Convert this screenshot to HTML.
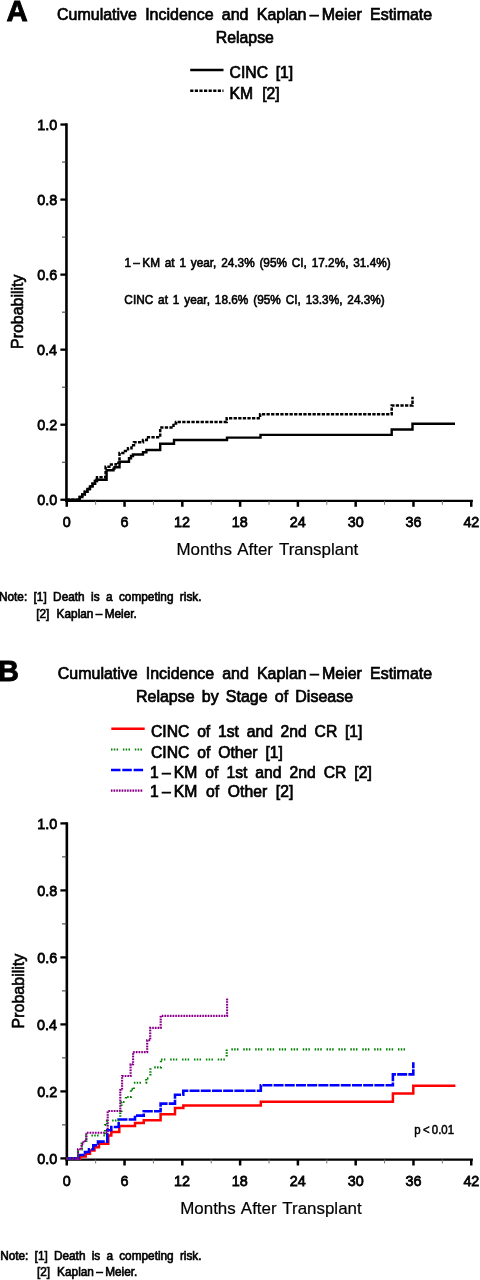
<!DOCTYPE html><html><head><meta charset="utf-8"><style>html,body{margin:0;padding:0;background:#fff;}svg{display:block;will-change:transform;}text{font-family:"Liberation Sans",sans-serif;fill:#000;white-space:pre;}</style></head><body>
<svg width="480" height="1280" viewBox="0 0 480 1280">
<text x="6.55" y="20.80" font-size="29.50" font-weight="bold" stroke="#000" stroke-width="0.90" textLength="21.26" lengthAdjust="spacingAndGlyphs">A</text>
<text transform="translate(57.00 20.30) scale(0.930 1)" font-size="17.20" stroke="#000" stroke-width="0.75" word-spacing="4.09">Cumulative Incidence and Kaplan – Meier Estimate</text>
<text transform="translate(215.81 43.10) scale(0.930 1)" font-size="17.20" stroke="#000" stroke-width="0.75" textLength="62.45" lengthAdjust="spacingAndGlyphs">Relapse</text>
<text transform="translate(229.60 78.00) scale(0.925 1)" font-size="17.00" stroke="#000" stroke-width="0.75" word-spacing="3.57">CINC [1]</text>
<text transform="translate(229.50 99.40) scale(0.925 1)" font-size="17.00" stroke="#000" stroke-width="0.75" word-spacing="5.14">KM [2]</text>
<text transform="translate(124.40 266.80) scale(0.970 1)" font-size="12.20" stroke="#000" stroke-width="0.60" word-spacing="1.54">1 – KM at 1 year, 24.3% (95% CI, 17.2%, 31.4%)</text>
<text transform="translate(124.35 304.30) scale(0.970 1)" font-size="12.20" stroke="#000" stroke-width="0.60" word-spacing="1.65">CINC at 1 year, 18.6% (95% CI, 13.3%, 24.3%)</text>
<text transform="translate(176.50 554.75) scale(1.020 1)" font-size="16.60" stroke="#000" stroke-width="0.20" word-spacing="1.52">Months After Transplant</text>
<text transform="translate(-1.05 601.40) scale(0.970 1)" font-size="12.20" stroke="#000" stroke-width="0.65" word-spacing="3.21">Note: [1] Death is a competing risk.</text>
<text transform="translate(36.20 617.80) scale(0.970 1)" font-size="12.20" stroke="#000" stroke-width="0.65" word-spacing="4.12">[2] Kaplan – Meier.</text>
<text x="-2.08" y="680.80" font-size="29.30" font-weight="bold" stroke="#000" stroke-width="0.90" textLength="20.89" lengthAdjust="spacingAndGlyphs">B</text>
<text transform="translate(57.80 679.10) scale(0.930 1)" font-size="17.20" stroke="#000" stroke-width="0.75" word-spacing="3.87">Cumulative Incidence and Kaplan – Meier Estimate</text>
<text transform="translate(136.00 701.80) scale(0.930 1)" font-size="17.20" stroke="#000" stroke-width="0.75" word-spacing="2.94">Relapse by Stage of Disease</text>
<text transform="translate(151.00 736.90) scale(0.925 1)" font-size="17.00" stroke="#000" stroke-width="0.75" word-spacing="3.64">CINC of 1st and 2nd CR [1]</text>
<text transform="translate(151.00 757.60) scale(0.925 1)" font-size="17.00" stroke="#000" stroke-width="0.75" word-spacing="3.78">CINC of Other [1]</text>
<text transform="translate(150.05 778.20) scale(0.925 1)" font-size="17.00" stroke="#000" stroke-width="0.75" word-spacing="3.88">1 – KM of 1st and 2nd CR [2]</text>
<text transform="translate(150.05 797.20) scale(0.925 1)" font-size="17.00" stroke="#000" stroke-width="0.75" word-spacing="4.67">1 – KM of Other [2]</text>
<text transform="translate(180.25 1214.40) scale(1.020 1)" font-size="16.60" stroke="#000" stroke-width="0.20" word-spacing="1.35">Months After Transplant</text>
<text x="414.27" y="1134.20" font-size="12.00" stroke="#000" stroke-width="0.50" textLength="39.80" lengthAdjust="spacingAndGlyphs">p &lt; 0.01</text>
<text transform="translate(0.15 1260.00) scale(0.970 1)" font-size="12.20" stroke="#000" stroke-width="0.65" word-spacing="3.01">Note: [1] Death is a competing risk.</text>
<text transform="translate(22.90 348.90) rotate(-90) scale(0.930 1)" font-size="17.20" stroke="#000" stroke-width="0.60" textLength="79.92" lengthAdjust="spacingAndGlyphs">Probability</text>
<text transform="translate(23.60 1028.50) rotate(-90) scale(0.930 1)" font-size="17.20" stroke="#000" stroke-width="0.60" textLength="80.46" lengthAdjust="spacingAndGlyphs">Probability</text>
<text transform="translate(37.00 1276.20) scale(0.970 1)" font-size="12.20" stroke="#000" stroke-width="0.65" word-spacing="3.81">[2] Kaplan – Meier.</text>
<text transform="translate(37.25 505.45) scale(0.940 1)" font-size="15.30" stroke="#000" stroke-width="0.80">0.0</text>
<text transform="translate(37.25 430.41) scale(0.940 1)" font-size="15.30" stroke="#000" stroke-width="0.80">0.2</text>
<text transform="translate(37.00 355.37) scale(0.940 1)" font-size="15.30" stroke="#000" stroke-width="0.80">0.4</text>
<text transform="translate(37.25 280.33) scale(0.940 1)" font-size="15.30" stroke="#000" stroke-width="0.80">0.6</text>
<text transform="translate(37.25 205.29) scale(0.940 1)" font-size="15.30" stroke="#000" stroke-width="0.80">0.8</text>
<text transform="translate(37.25 130.25) scale(0.940 1)" font-size="15.30" stroke="#000" stroke-width="0.80">1.0</text>
<text transform="translate(62.75 526.50) scale(0.940 1)" font-size="15.30" stroke="#000" stroke-width="0.80">0</text>
<text transform="translate(120.54 526.50) scale(0.940 1)" font-size="15.30" stroke="#000" stroke-width="0.80">6</text>
<text transform="translate(174.07 526.50) scale(0.940 1)" font-size="15.30" stroke="#000" stroke-width="0.80">12</text>
<text transform="translate(231.86 526.50) scale(0.940 1)" font-size="15.30" stroke="#000" stroke-width="0.80">18</text>
<text transform="translate(289.77 526.50) scale(0.940 1)" font-size="15.30" stroke="#000" stroke-width="0.80">24</text>
<text transform="translate(347.68 526.50) scale(0.940 1)" font-size="15.30" stroke="#000" stroke-width="0.80">30</text>
<text transform="translate(405.47 526.50) scale(0.940 1)" font-size="15.30" stroke="#000" stroke-width="0.80">36</text>
<text transform="translate(463.38 526.50) scale(0.940 1)" font-size="15.30" stroke="#000" stroke-width="0.80">42</text>
<text transform="translate(37.25 1164.10) scale(0.940 1)" font-size="15.30" stroke="#000" stroke-width="0.80">0.0</text>
<text transform="translate(37.25 1097.10) scale(0.940 1)" font-size="15.30" stroke="#000" stroke-width="0.80">0.2</text>
<text transform="translate(37.00 1030.10) scale(0.940 1)" font-size="15.30" stroke="#000" stroke-width="0.80">0.4</text>
<text transform="translate(37.25 963.10) scale(0.940 1)" font-size="15.30" stroke="#000" stroke-width="0.80">0.6</text>
<text transform="translate(37.25 896.10) scale(0.940 1)" font-size="15.30" stroke="#000" stroke-width="0.80">0.8</text>
<text transform="translate(37.25 829.10) scale(0.940 1)" font-size="15.30" stroke="#000" stroke-width="0.80">1.0</text>
<text transform="translate(62.75 1185.80) scale(0.940 1)" font-size="15.30" stroke="#000" stroke-width="0.80">0</text>
<text transform="translate(120.54 1185.80) scale(0.940 1)" font-size="15.30" stroke="#000" stroke-width="0.80">6</text>
<text transform="translate(174.07 1185.80) scale(0.940 1)" font-size="15.30" stroke="#000" stroke-width="0.80">12</text>
<text transform="translate(231.86 1185.80) scale(0.940 1)" font-size="15.30" stroke="#000" stroke-width="0.80">18</text>
<text transform="translate(289.77 1185.80) scale(0.940 1)" font-size="15.30" stroke="#000" stroke-width="0.80">24</text>
<text transform="translate(347.68 1185.80) scale(0.940 1)" font-size="15.30" stroke="#000" stroke-width="0.80">30</text>
<text transform="translate(405.47 1185.80) scale(0.940 1)" font-size="15.30" stroke="#000" stroke-width="0.80">36</text>
<text transform="translate(463.38 1185.80) scale(0.940 1)" font-size="15.30" stroke="#000" stroke-width="0.80">42</text>
<line x1="66.45" y1="123.35" x2="66.45" y2="502.10" stroke="#000" stroke-width="2.6"/>
<line x1="60.4" y1="499.75" x2="66.45" y2="499.75" stroke="#000" stroke-width="2.3"/>
<line x1="62" y1="462.23" x2="66.45" y2="462.23" stroke="#333" stroke-width="1"/>
<line x1="60.4" y1="424.71" x2="66.45" y2="424.71" stroke="#000" stroke-width="2.3"/>
<line x1="62" y1="387.19" x2="66.45" y2="387.19" stroke="#333" stroke-width="1"/>
<line x1="60.4" y1="349.67" x2="66.45" y2="349.67" stroke="#000" stroke-width="2.3"/>
<line x1="62" y1="312.15" x2="66.45" y2="312.15" stroke="#333" stroke-width="1"/>
<line x1="60.4" y1="274.63" x2="66.45" y2="274.63" stroke="#000" stroke-width="2.3"/>
<line x1="62" y1="237.11" x2="66.45" y2="237.11" stroke="#333" stroke-width="1"/>
<line x1="60.4" y1="199.59" x2="66.45" y2="199.59" stroke="#000" stroke-width="2.3"/>
<line x1="62" y1="162.07" x2="66.45" y2="162.07" stroke="#333" stroke-width="1"/>
<line x1="60.4" y1="124.55" x2="66.45" y2="124.55" stroke="#000" stroke-width="2.3"/>
<line x1="65.15" y1="500.90" x2="472.9" y2="500.90" stroke="#000" stroke-width="2.4"/>
<line x1="66.75" y1="500.90" x2="66.75" y2="506.80" stroke="#000" stroke-width="2.5"/>
<line x1="95.64" y1="500.90" x2="95.64" y2="504.80" stroke="#777" stroke-width="1"/>
<line x1="124.54" y1="500.90" x2="124.54" y2="506.80" stroke="#000" stroke-width="2.5"/>
<line x1="153.43" y1="500.90" x2="153.43" y2="504.80" stroke="#777" stroke-width="1"/>
<line x1="182.32" y1="500.90" x2="182.32" y2="506.80" stroke="#000" stroke-width="2.5"/>
<line x1="211.22" y1="500.90" x2="211.22" y2="504.80" stroke="#777" stroke-width="1"/>
<line x1="240.11" y1="500.90" x2="240.11" y2="506.80" stroke="#000" stroke-width="2.5"/>
<line x1="269.00" y1="500.90" x2="269.00" y2="504.80" stroke="#777" stroke-width="1"/>
<line x1="297.89" y1="500.90" x2="297.89" y2="506.80" stroke="#000" stroke-width="2.5"/>
<line x1="326.79" y1="500.90" x2="326.79" y2="504.80" stroke="#777" stroke-width="1"/>
<line x1="355.68" y1="500.90" x2="355.68" y2="506.80" stroke="#000" stroke-width="2.5"/>
<line x1="384.57" y1="500.90" x2="384.57" y2="504.80" stroke="#777" stroke-width="1"/>
<line x1="413.47" y1="500.90" x2="413.47" y2="506.80" stroke="#000" stroke-width="2.5"/>
<line x1="442.36" y1="500.90" x2="442.36" y2="504.80" stroke="#777" stroke-width="1"/>
<line x1="471.25" y1="500.90" x2="471.25" y2="506.80" stroke="#000" stroke-width="2.5"/>
<path d="M66.75 499.75L77.20 499.75L79.74 499.75L79.74 497.07L82.29 497.07L82.29 494.39L84.83 494.39L84.83 491.71L87.37 491.71L87.37 489.04L89.91 489.04L89.91 486.36L92.46 486.36L92.46 483.68L95.00 483.68L95.00 481.00L96.50 481.00L96.50 479.70L106.60 479.70L106.60 470.20L113.50 470.20L113.50 468.60L114.50 468.60L114.50 467.20L119.50 467.20L119.50 461.80L129.00 461.80L129.00 458.30L131.00 458.30L131.00 456.00L133.00 456.00L133.00 454.50L143.00 454.50L143.00 452.30L146.40 452.30L146.40 450.00L160.20 450.00L160.20 443.70L174.00 443.70L174.00 440.00L227.00 440.00L227.00 437.60L260.50 437.60L260.50 434.90L391.70 434.90L391.70 429.50L412.50 429.50L412.50 423.80L455.00 423.80" fill="none" stroke="#000" stroke-width="2.4"/>
<path d="M66.75 499.75L77.20 499.75L79.74 499.75L79.74 497.07L82.29 497.07L82.29 494.39L84.83 494.39L84.83 491.71L87.37 491.71L87.37 489.04L89.91 489.04L89.91 486.36L92.46 486.36L92.46 483.68L95.00 483.68L95.00 481.00L97.00 481.00L97.00 477.20L105.60 477.20L105.60 466.70L111.00 466.70L111.00 464.50L116.00 464.50L116.00 462.80L119.50 462.80L119.50 453.00L125.00 453.00L125.00 451.00L128.00 451.00L128.00 448.20L131.50 448.20L131.50 445.30L134.00 445.30L134.00 442.20L143.00 442.20L143.00 440.00L146.80 440.00L146.80 437.20L160.20 437.20L160.20 427.60L173.50 427.60L173.50 423.50L176.00 423.50L176.00 422.00L226.70 422.00L226.70 418.20L260.10 418.20L260.10 414.30L391.70 414.30L391.70 405.60L412.50 405.60L412.50 396.70" fill="none" stroke="#000" stroke-width="2.5" stroke-dasharray="3.3 1.3"/>
<line x1="190.2" y1="70" x2="223.5" y2="70" stroke="#000" stroke-width="2.3"/>
<line x1="190.2" y1="90.7" x2="223.5" y2="90.7" stroke="#000" stroke-width="2.5" stroke-dasharray="3.2 1.4"/>
<line x1="111.3" y1="728.80" x2="144.7" y2="728.80" stroke="#f00" stroke-width="2.5"/>
<line x1="111" y1="749.50" x2="142.5" y2="749.50" stroke="#008000" stroke-width="2.2" stroke-dasharray="1.5 1.3 1.5 1.3 1.5 4.8"/>
<line x1="111" y1="770.00" x2="144" y2="770.00" stroke="#00f" stroke-width="2.4" stroke-dasharray="9.5 1.8"/>
<line x1="110.9" y1="790.60" x2="143" y2="790.60" stroke="#f4c8f4" stroke-width="2.0"/>
<line x1="110.9" y1="790.60" x2="143" y2="790.60" stroke="#800080" stroke-width="2.2" stroke-dasharray="1.5 1.2"/>
<line x1="66.85" y1="822.20" x2="66.85" y2="1160.80" stroke="#000" stroke-width="2.6"/>
<line x1="60.4" y1="1158.40" x2="66.85" y2="1158.40" stroke="#000" stroke-width="2.3"/>
<line x1="62" y1="1124.90" x2="66.85" y2="1124.90" stroke="#333" stroke-width="1"/>
<line x1="60.4" y1="1091.40" x2="66.85" y2="1091.40" stroke="#000" stroke-width="2.3"/>
<line x1="62" y1="1057.90" x2="66.85" y2="1057.90" stroke="#333" stroke-width="1"/>
<line x1="60.4" y1="1024.40" x2="66.85" y2="1024.40" stroke="#000" stroke-width="2.3"/>
<line x1="62" y1="990.90" x2="66.85" y2="990.90" stroke="#333" stroke-width="1"/>
<line x1="60.4" y1="957.40" x2="66.85" y2="957.40" stroke="#000" stroke-width="2.3"/>
<line x1="62" y1="923.90" x2="66.85" y2="923.90" stroke="#333" stroke-width="1"/>
<line x1="60.4" y1="890.40" x2="66.85" y2="890.40" stroke="#000" stroke-width="2.3"/>
<line x1="62" y1="856.90" x2="66.85" y2="856.90" stroke="#333" stroke-width="1"/>
<line x1="60.4" y1="823.40" x2="66.85" y2="823.40" stroke="#000" stroke-width="2.3"/>
<line x1="65.55" y1="1159.60" x2="472.9" y2="1159.60" stroke="#000" stroke-width="2.4"/>
<line x1="66.75" y1="1159.60" x2="66.75" y2="1165.50" stroke="#000" stroke-width="2.5"/>
<line x1="95.64" y1="1159.60" x2="95.64" y2="1163.50" stroke="#777" stroke-width="1"/>
<line x1="124.54" y1="1159.60" x2="124.54" y2="1165.50" stroke="#000" stroke-width="2.5"/>
<line x1="153.43" y1="1159.60" x2="153.43" y2="1163.50" stroke="#777" stroke-width="1"/>
<line x1="182.32" y1="1159.60" x2="182.32" y2="1165.50" stroke="#000" stroke-width="2.5"/>
<line x1="211.22" y1="1159.60" x2="211.22" y2="1163.50" stroke="#777" stroke-width="1"/>
<line x1="240.11" y1="1159.60" x2="240.11" y2="1165.50" stroke="#000" stroke-width="2.5"/>
<line x1="269.00" y1="1159.60" x2="269.00" y2="1163.50" stroke="#777" stroke-width="1"/>
<line x1="297.89" y1="1159.60" x2="297.89" y2="1165.50" stroke="#000" stroke-width="2.5"/>
<line x1="326.79" y1="1159.60" x2="326.79" y2="1163.50" stroke="#777" stroke-width="1"/>
<line x1="355.68" y1="1159.60" x2="355.68" y2="1165.50" stroke="#000" stroke-width="2.5"/>
<line x1="384.57" y1="1159.60" x2="384.57" y2="1163.50" stroke="#777" stroke-width="1"/>
<line x1="413.47" y1="1159.60" x2="413.47" y2="1165.50" stroke="#000" stroke-width="2.5"/>
<line x1="442.36" y1="1159.60" x2="442.36" y2="1163.50" stroke="#777" stroke-width="1"/>
<line x1="471.25" y1="1159.60" x2="471.25" y2="1165.50" stroke="#000" stroke-width="2.5"/>
<path d="M66.75 1158.40L78.00 1158.40L78.00 1149.30L81.70 1149.30L81.70 1143.70L83.50 1143.70L83.50 1141.00L86.30 1141.00L86.30 1132.70L107.70 1132.70L107.70 1111.00L120.30 1111.00L120.30 1090.00L122.10 1090.00L122.10 1076.00L130.60 1076.00L130.60 1064.20L133.10 1064.20L133.10 1052.10L147.20 1052.10L147.20 1040.30L150.20 1040.30L150.20 1027.90L160.70 1027.90L160.70 1015.90L227.10 1015.90L227.10 997.50" fill="none" stroke="#f4c8f4" stroke-width="2.0"/>
<path d="M66.75 1158.40L80.00 1158.40L80.00 1156.50L85.70 1156.50L85.70 1153.80L90.00 1153.80L90.00 1150.50L94.50 1150.50L94.50 1147.30L99.00 1147.30L99.00 1143.80L108.30 1143.80L108.30 1135.60L111.30 1135.60L111.30 1132.00L119.30 1132.00L119.30 1126.00L135.00 1126.00L135.00 1123.10L143.75 1123.10L143.75 1120.25L160.60 1120.25L160.60 1114.30L175.00 1114.30L175.00 1108.00L183.30 1108.00L183.30 1105.60L260.80 1105.60L260.80 1101.70L392.90 1101.70L392.90 1093.60L413.30 1093.60L413.30 1085.70L455.40 1085.70" fill="none" stroke="#f00" stroke-width="2.5"/>
<path d="M66.75 1158.40L78.50 1158.40L78.50 1155.00L85.00 1155.00L85.00 1152.00L89.00 1152.00L89.00 1149.30L93.30 1149.30L93.30 1145.30L98.00 1145.30L98.00 1141.60L107.30 1141.60L107.30 1130.30L111.30 1130.30L111.30 1127.00L118.70 1127.00L118.70 1119.50L135.00 1119.50L135.00 1115.60L143.75 1115.60L143.75 1111.25L160.60 1111.25L160.60 1103.60L175.00 1103.60L175.00 1094.70L183.30 1094.70L183.30 1090.80L260.80 1090.80L260.80 1085.20L392.90 1085.20L392.90 1074.40L413.30 1074.40L413.30 1062.30" fill="none" stroke="#00f" stroke-width="2.6" stroke-dasharray="10 1.2"/>
<path d="M66.75 1158.40L78.00 1158.40L78.00 1149.30L81.70 1149.30L81.70 1143.70L83.50 1143.70L83.50 1141.00L86.30 1141.00L86.30 1135.50L105.00 1135.50L105.00 1125.00L107.00 1125.00L107.00 1120.50L120.25 1120.50L120.25 1111.00L121.50 1111.00L121.50 1102.00L125.90 1102.00L125.90 1097.00L130.90 1097.00L130.90 1089.40L133.75 1089.40L133.75 1082.75L146.25 1082.75L146.25 1078.30L150.40 1078.30L150.40 1067.40L160.90 1067.40L160.90 1059.50L226.70 1059.50L226.70 1049.30L409.50 1049.30" fill="none" stroke="#008000" stroke-width="2.2" stroke-dasharray="1.5 1.3 1.5 1.3 1.5 4.8"/>
<path d="M66.75 1158.40L78.00 1158.40L78.00 1149.30L81.70 1149.30L81.70 1143.70L83.50 1143.70L83.50 1141.00L86.30 1141.00L86.30 1132.70L107.70 1132.70L107.70 1111.00L120.30 1111.00L120.30 1090.00L122.10 1090.00L122.10 1076.00L130.60 1076.00L130.60 1064.20L133.10 1064.20L133.10 1052.10L147.20 1052.10L147.20 1040.30L150.20 1040.30L150.20 1027.90L160.70 1027.90L160.70 1015.90L227.10 1015.90L227.10 997.50" fill="none" stroke="#800080" stroke-width="2.1" stroke-dasharray="1.5 1.2"/>
</svg></body></html>
